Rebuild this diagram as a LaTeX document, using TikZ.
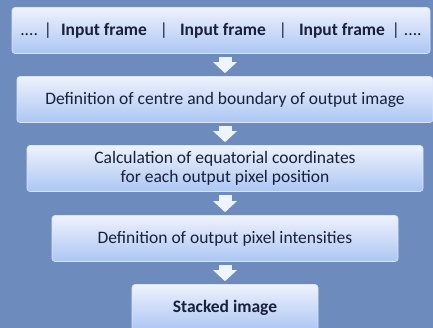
\documentclass[tikz,border=0pt]{standalone}
\usepackage{fontspec}
\setmainfont{Carlito}
\usetikzlibrary{positioning,arrows.meta}
\definecolor{bgblue}{RGB}{110,139,189}
\definecolor{boxtop}{RGB}{238,242,252}
\definecolor{boxbot}{RGB}{172,198,244}
\definecolor{boxtext}{RGB}{24,32,58}
\definecolor{arrowwhite}{RGB}{238,243,252}

\begin{document}
\begin{tikzpicture}[
  x=1pt,y=1pt,
  every node/.style={scale=1.0},
  stage/.style={rectangle,rounded corners=3pt,top color=boxtop,bottom color=boxbot,draw=boxtop!70!boxbot,line width=0.6pt,
    text=boxtext,align=center,minimum height=46pt,font=\fontsize{17.5}{19}\selectfont,on grid},
  flow/.style={draw=arrowwhite,line width=13pt,-{Triangle[width=23pt,length=11pt]},shorten <=3pt,shorten >=3pt},
]
\fill[bgblue] (0,0) rectangle (433,-328);
\useasboundingbox (0,0) rectangle (433,-328);

\node (frames) [stage,minimum width=418pt] at (221,-30.5) {....\hspace{6pt}|\hspace{9pt}\textbf{Input frame}\hspace{13pt}|\hspace{12pt}\textbf{Input frame}\hspace{13pt}|\hspace{12pt}\textbf{Input frame}\hspace{7pt}|\hspace{4pt}....};

\node (bounds) [stage,minimum width=416pt,below=69pt of frames,xshift=4pt] {Definition of centre and boundary of output image};

\node (coords) [stage,minimum width=396pt,below=69pt of bounds] {Calculation of equatorial coordinates\\for each output pixel position};

\node (intens) [stage,minimum width=346pt,below=70pt of coords] {Definition of output pixel intensities};

\node (stacked) [stage,minimum width=186pt,below=69pt of intens] {\textbf{Stacked image}};

\draw[flow] (bounds.north |- frames.south) to (bounds.north);
\draw[flow] (bounds.south) to (coords.north);
\draw[flow] (coords.south) to (intens.north);
\draw[flow] (intens.south) to (stacked.north);
\end{tikzpicture}
\end{document}
